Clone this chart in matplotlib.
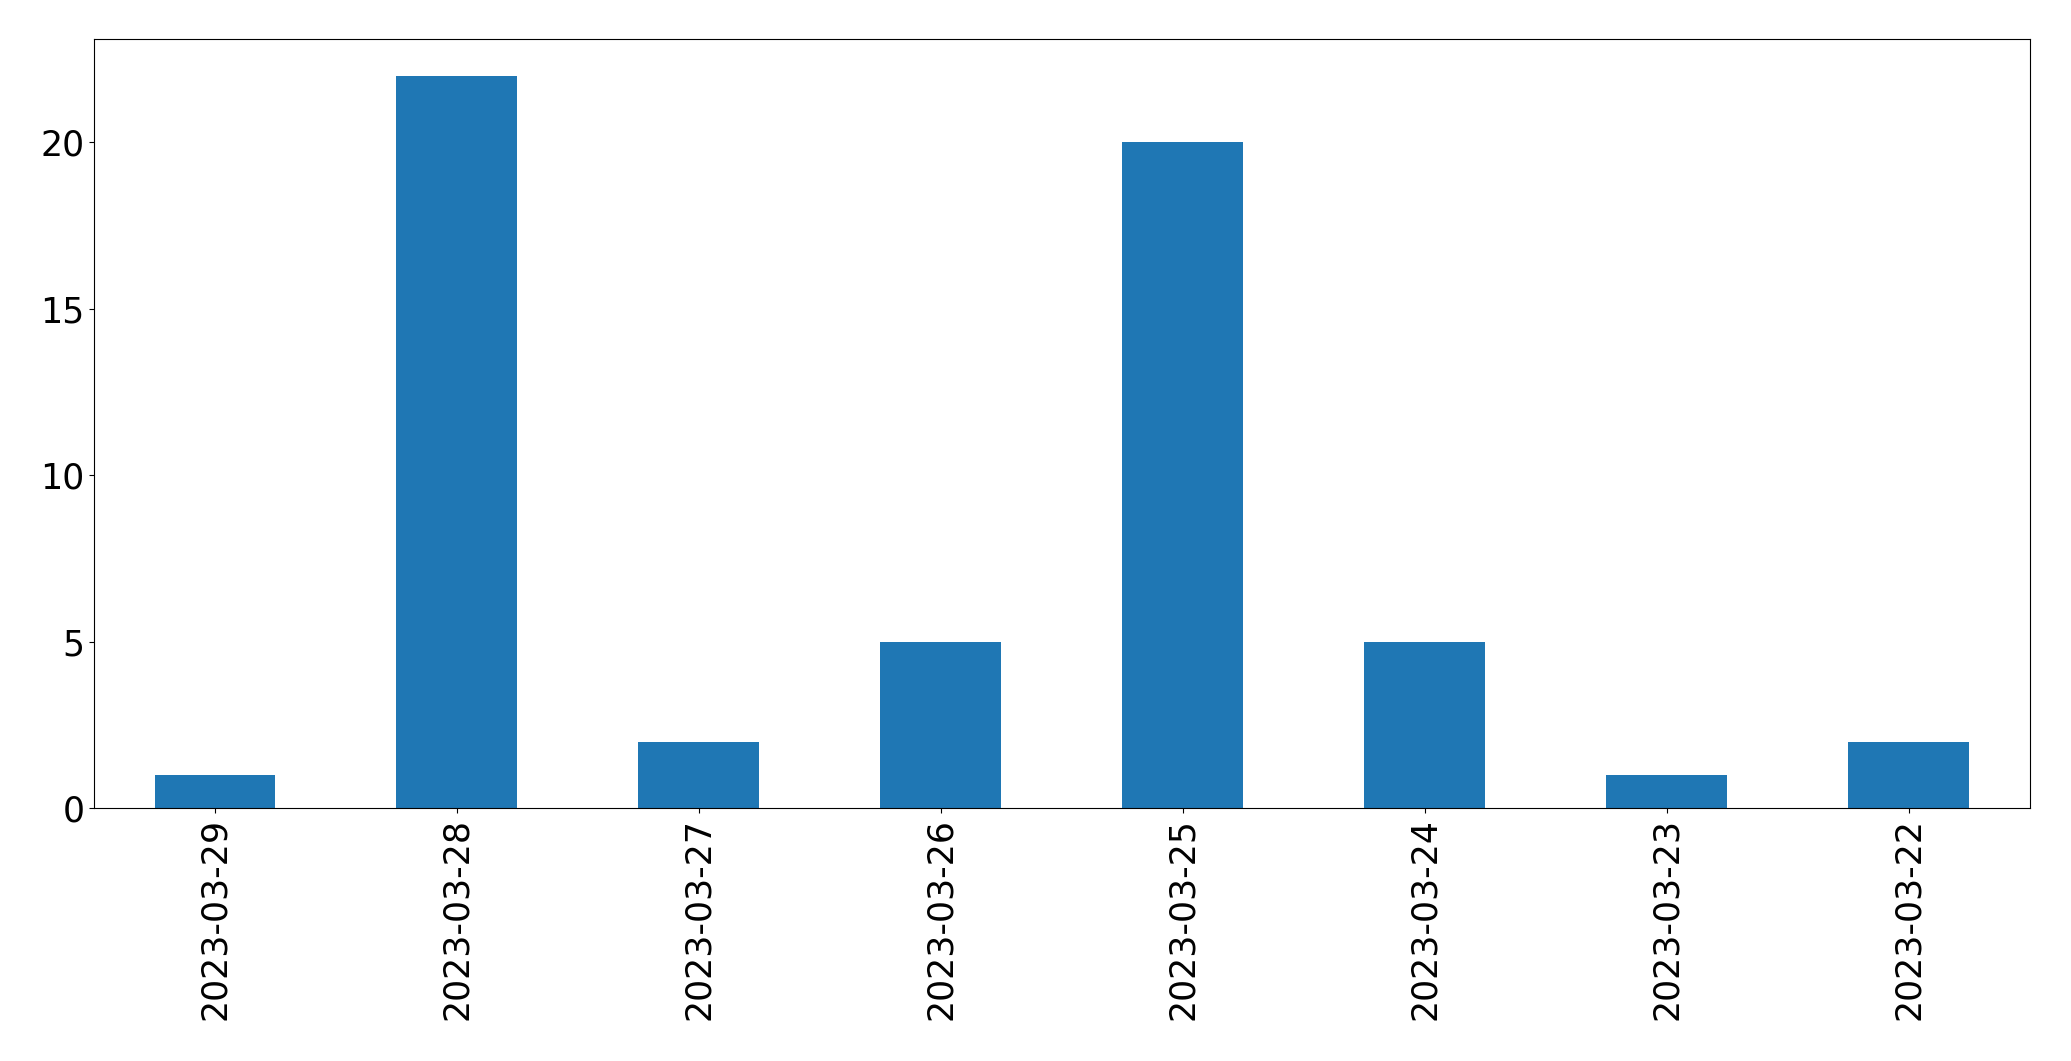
import matplotlib
matplotlib.use('Agg')
import matplotlib.pyplot as plt
import pandas as pd

dates = ['2023-03-29', '2023-03-28', '2023-03-27', '2023-03-26',
         '2023-03-25', '2023-03-24', '2023-03-23', '2023-03-22']
counts = [1, 22, 2, 5, 20, 5, 1, 2]

s = pd.Series(counts, index=dates)

fig = plt.figure(figsize=(20.71, 10.61), dpi=100)
ax = fig.add_subplot(111)
s.plot(kind='bar', ax=ax, fontsize=25)
fig.subplots_adjust(left=0.0454, right=0.980, top=0.963, bottom=0.238)
fig.savefig('out.png', dpi=100)
